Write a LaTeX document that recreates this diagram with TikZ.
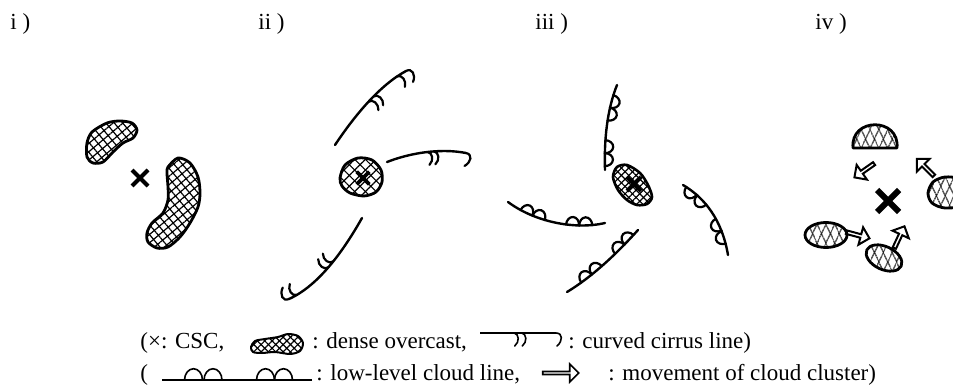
\documentclass[tikz,border=0pt]{standalone}
\usepackage{fontspec}
\setmainfont{Liberation Serif}
\usetikzlibrary{patterns.meta,decorations.markings,shapes.misc,shapes.arrows}

\begin{document}
\begin{tikzpicture}[x=0.5pt, y=-0.5pt,
	every node/.style={font=\fontsize{11.5}{13}\selectfont, inner sep=0pt},
	mesh/.style n args={3}{line width=1.4pt, line join=round,
		preaction={pattern={Lines[angle=#1,distance=#3,line width=.6pt]}},
		preaction={pattern={Lines[angle=#2,distance=#3,line width=.6pt]}}},
	csc/.style={cross out, draw, line width=2pt, minimum size=#1},
	move/.style={single arrow, draw, line width=1pt, minimum height=12pt, minimum width=9pt, single arrow head extend=2pt},
	mark line/.style={line width=1.1pt, line cap=round},
	bump radius/.store in=\bumprad, bump radius=6.5,
	cirrus/.style={line width=1.2pt, line cap=round},
	lowline/.style={line width=1.2pt, line cap=round},
	ci hook/.style={postaction={decorate, decoration={markings,
		mark=at position #1 with {\draw[mark line] (0,0) .. controls (5,1) and (5.5,9) .. (.5,13);}}}},
	ci end/.style={postaction={decorate, decoration={markings,
		mark=at position .9999 with {\draw[mark line] (0,0) .. controls (7,0) and (7,8) .. (1,13);}}}},
	lo bump/.style={postaction={decorate, decoration={markings,
		mark=at position #1 with {\draw[mark line] (-\bumprad,0) arc [start angle=180, end angle=0, x radius=\bumprad, y radius=1.25*\bumprad];}}}}]
	\useasboundingbox (0,0) rectangle (953,385);
	\clip (0,0) rectangle (953,385);

	\node[anchor=base west] (li) at (10,30) {i )};
	\node[anchor=base west] (lii) at (258,30) {ii )};
	\node[anchor=base west] (liii) at (535,30) {iii )};
	\node[anchor=base west] (liv) at (815,30) {iv )};

	% i) two dense overcast areas beside the centre
	\draw[mesh={40}{-50}{3.2pt}] plot[smooth cycle] coordinates {(87,143) (92,132) (107,123) (120,121) (132,123) (137,130) (133,138) (123,143) (113,152) (103,162) (93,163) (87,157)};
	\draw[mesh={40}{-50}{3.2pt}] plot[smooth cycle] coordinates {(168,167) (178,158) (190,163) (198,177) (200,193) (198,207) (190,223) (180,237) (168,247) (157,248) (148,242) (147,233) (152,223) (163,213) (168,200) (168,187) (167,173)};
	\node[csc=6pt] (ci) at (140,178) {};

	% ii) cirrus lines round a small overcast
	\draw[mesh={45}{-45}{3.8pt}] plot[smooth cycle] coordinates {(340,178) (345,165) (358,158) (372,160) (381,170) (382,182) (376,192) (364,196) (350,193) (342,186)};
	\node[csc=4.5pt, line width=1.8pt] (cii) at (363,178) {};
	\draw[cirrus, ci hook=.53, ci hook=.6, ci hook=.9, ci end] (335,145) .. controls (355,115) and (380,85) .. (406,71);
	\draw[cirrus, ci hook=.52, ci hook=.6, ci end] (387,162) .. controls (410,153) and (440,148) .. (466,153);
	\draw[cirrus, ci hook=.47, ci hook=.54, ci hook=.92, ci end] (362,218) .. controls (345,248) and (320,285) .. (289,299);

	% iii) low-level cloud lines
	\draw[mesh={45}{-45}{2.6pt}, line width=1.3pt] plot[smooth cycle] coordinates {(617,167) (627,165) (640,173) (648,185) (652,197) (647,204) (637,205) (627,200) (618,190) (613,177)};
	\node[csc=5pt] (ciii) at (634,184) {};
	\draw[lowline, lo bump=.12, lo bump=.27, lo bump=.65, lo bump=.8] (605,170) .. controls (604,140) and (607,110) .. (617,85);
	\draw[lowline, lo bump=.12, lo bump=.28, lo bump=.63, lo bump=.79] (683,185) .. controls (705,198) and (722,220) .. (728,255);
	\draw[lowline, lo bump=.14, lo bump=.28, lo bump=.61, lo bump=.75] (638,230) .. controls (620,250) and (595,275) .. (567,292);
	\draw[lowline, lo bump=.19, lo bump=.32, lo bump=.66, lo bump=.79] (605,223) .. controls (575,230) and (535,222) .. (508,202);

	% iv) cloud clusters moving in
	\draw[mesh={65}{115}{4pt}] (853,148) .. controls (850,117) and (900,117) .. (897,148) -- cycle;
	\draw[mesh={65}{115}{4pt}] plot[smooth cycle] coordinates {(928,193) (933,182) (945,177) (960,179) (970,190) (965,205) (945,208) (932,203)};
	\draw[mesh={65}{115}{4pt}] (826,235) ellipse [x radius=21, y radius=12.5];
	\draw[mesh={65}{115}{4pt}, rotate around={-25:(884,258)}] (884,258) ellipse [x radius=19, y radius=11.5];
	\node[csc=8pt, line width=3pt] (civ) at (888,201) {};
	\node[move, rotate=215] (m1) at (865,170) {};
	\node[move, rotate=135] (m2) at (926,168) {};
	\node[move, rotate=-15] (m3) at (857,235) {};
	\node[move, rotate=65] (m4) at (899,238) {};

	% key
	\node[anchor=base west] (k1) at (140,348) {(×: CSC,};
	\draw[mesh={45}{-45}{2.6pt}, line width=1pt] plot[smooth cycle] coordinates {(251,347) (255,341) (265,339) (278,337) (288,334) (298,336) (303,343) (300,351) (290,354) (275,352) (262,353) (253,352)};
	\node[anchor=base west] (k2) at (312,348) {: dense overcast,};
	\begin{scope}[mark line/.style={line width=.8pt, line cap=round}]
		\draw[line width=.8pt, ci hook=.45, ci hook=.55, ci end] (480,333) -- (556,333);
		\draw[line width=.8pt, bump radius=9, lo bump=.19, lo bump=.31, lo bump=.66, lo bump=.79] (312,380) -- (162,380);
	\end{scope}
	\node[anchor=base west] (k3) at (568,348) {: curved cirrus line)};
	\node[anchor=base west] (k4) at (140,380) {(};
	\node[anchor=base west] (k5) at (316,380) {: low-level cloud line,};
	\node[move, line width=.8pt, minimum height=18pt, minimum width=9pt] (k6) at (560,373) {};
	\node[anchor=base west] (k7) at (608,380) {: movement of cloud cluster)};
\end{tikzpicture}
\end{document}
